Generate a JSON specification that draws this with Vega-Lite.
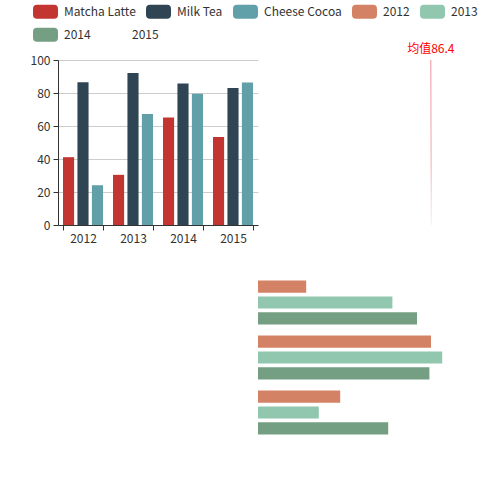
{
  "$schema": "https://vega.github.io/schema/vega-lite/v6.json",
  "padding": {"left": 30, "top": -1, "right": 0, "bottom": 0},
  "background": "white",
  "config": {
    "view": {"stroke": null},
    "font": "Noto Sans CJK SC",
    "axis": {"labelFont": "Noto Sans CJK SC", "labelFontSize": 12, "labelColor": "#333", "domainColor": "#333", "tickColor": "#333", "tickSize": 5, "labelPadding": 3, "title": null},
    "legend": {"symbolType": "M-0.68,-0.56L0.68,-0.56Q1,-0.56,1,-0.24L1,0.24Q1,0.56,0.68,0.56L-0.68,0.56Q-1,0.56,-1,0.24L-1,-0.24Q-1,-0.56,-0.68,-0.56Z",
               "symbolSize": 625, "symbolStrokeWidth": 0, "symbolOpacity": 1,
               "labelFont": "Noto Sans CJK SC", "labelFontSize": 12, "labelColor": "#333", "labelOffset": 6,
               "columnPadding": 10, "rowPadding": 0}
  },
  "bounds": "flush",
  "columns": 2,
  "spacing": {"row": 50, "column": 0},
  "resolve": {"scale": {"color": "shared", "fill": "shared", "x": "independent", "y": "independent"}},
  "concat": [
    {
      "width": 200,
      "height": 165,
      "data": {"values": [
        {"year": "2012", "series": "Matcha Latte", "value": 41.1},
        {"year": "2013", "series": "Matcha Latte", "value": 30.4},
        {"year": "2014", "series": "Matcha Latte", "value": 65.1},
        {"year": "2015", "series": "Matcha Latte", "value": 53.3},
        {"year": "2012", "series": "Milk Tea", "value": 86.5},
        {"year": "2013", "series": "Milk Tea", "value": 92.1},
        {"year": "2014", "series": "Milk Tea", "value": 85.7},
        {"year": "2015", "series": "Milk Tea", "value": 83.1},
        {"year": "2012", "series": "Cheese Cocoa", "value": 24.1},
        {"year": "2013", "series": "Cheese Cocoa", "value": 67.2},
        {"year": "2014", "series": "Cheese Cocoa", "value": 79.5},
        {"year": "2015", "series": "Cheese Cocoa", "value": 86.4}
      ]},
      "mark": {"type": "bar"},
      "encoding": {
        "x": {"field": "year", "type": "nominal", "scale": {"paddingInner": 0.2, "paddingOuter": 0.1},
              "axis": {"labelAngle": 0, "tickBand": "extent", "grid": false}},
        "xOffset": {"field": "series", "type": "nominal", "sort": ["Matcha Latte", "Milk Tea", "Cheese Cocoa"],
                    "scale": {"paddingInner": 0.2308, "paddingOuter": 0}},
        "y": {"field": "value", "type": "quantitative", "scale": {"domain": [0, 100]},
              "axis": {"values": [0, 20, 40, 60, 80, 100], "grid": true, "gridColor": "#ccc", "domain": true}},
        "color": {"field": "series", "type": "nominal",
                  "scale": {"domain": ["Matcha Latte", "Milk Tea", "Cheese Cocoa", "2012", "2013"],
                            "range": ["#c23531", "#2f4554", "#61a0a8", "#d48265", "#91c7ae"]},
                  "legend": {"title": null, "orient": "none", "legendX": -25, "legendY": -61, "direction": "horizontal", "columns": 5}}
      }
    },
    {
      "width": 200,
      "height": 165,
      "data": {"values": [{"avg": 86.4, "label": "均值86.4"}]},
      "layer": [
        {
          "mark": {"type": "rule", "strokeWidth": 1, "x2Offset": 0.5,
                   "stroke": {"gradient": "linear", "x1": 0, "y1": 0, "x2": 0, "y2": 1,
                              "stops": [{"offset": 0, "color": "#ef8f99"}, {"offset": 0.6, "color": "#f2a7ae"}, {"offset": 1, "color": "#faf0f0"}]}},
          "encoding": {
            "x": {"field": "avg", "type": "quantitative", "scale": {"domain": [0, 100]}, "axis": null},
            "x2": {"field": "avg"},
            "y": {"datum": 1, "type": "quantitative", "scale": {"domain": [0, 1]}, "axis": null},
            "y2": {"datum": 0}
          }
        },
        {
          "mark": {"type": "text", "color": "#ff0000", "fontSize": 12, "baseline": "alphabetic", "dy": -7, "font": "Noto Sans CJK SC"},
          "encoding": {
            "x": {"field": "avg", "type": "quantitative", "scale": {"domain": [0, 100]}, "axis": null},
            "y": {"datum": 1, "type": "quantitative", "scale": {"domain": [0, 1]}, "axis": null},
            "text": {"field": "label", "type": "nominal"}
          }
        }
      ]
    },
    {
      "width": 200,
      "height": 165,
      "data": {"values": [{}]},
      "mark": {"type": "point", "opacity": 0}
    },
    {
      "width": 200,
      "height": 165,
      "data": {"values": [
        {"product": "Matcha Latte", "series": "2012", "value": 41.1},
        {"product": "Matcha Latte", "series": "2013", "value": 30.4},
        {"product": "Matcha Latte", "series": "2014", "value": 65.1},
        {"product": "Milk Tea", "series": "2012", "value": 86.5},
        {"product": "Milk Tea", "series": "2013", "value": 92.1},
        {"product": "Milk Tea", "series": "2014", "value": 85.7},
        {"product": "Cheese Cocoa", "series": "2012", "value": 24.1},
        {"product": "Cheese Cocoa", "series": "2013", "value": 67.2},
        {"product": "Cheese Cocoa", "series": "2014", "value": 79.5}
      ]},
      "encoding": {
        "y": {"field": "product", "type": "nominal",
              "scale": {"domain": ["Cheese Cocoa", "Milk Tea", "Matcha Latte"], "paddingInner": 0.2, "paddingOuter": 0.1}, "axis": null},
        "yOffset": {"field": "series", "type": "nominal",
                    "scale": {"domain": ["2012", "2013", "2014"], "paddingInner": 0.2308, "paddingOuter": 0}},
        "x": {"field": "value", "type": "quantitative", "scale": {"domain": [0, 100]}, "axis": null}
      },
      "layer": [
        {
          "transform": [{"filter": "datum.series != '2014'"}],
          "mark": {"type": "bar"},
          "encoding": {
            "color": {"field": "series", "type": "nominal",
                      "scale": {"domain": ["Matcha Latte", "Milk Tea", "Cheese Cocoa", "2012", "2013"],
                                "range": ["#c23531", "#2f4554", "#61a0a8", "#d48265", "#91c7ae"]},
                      "legend": {"title": null, "orient": "none", "legendX": -25, "legendY": -61, "direction": "horizontal", "columns": 5}}
          }
        },
        {
          "transform": [{"filter": "datum.series == '2014'"}],
          "mark": {"type": "bar"},
          "encoding": {
            "fill": {"field": "series", "type": "nominal",
                     "scale": {"domain": ["2014", "2015"], "range": ["#749f83", "rgba(0,0,0,0)"]},
                     "legend": {"title": null, "orient": "none", "legendX": -25, "legendY": -38, "direction": "horizontal", "columns": 2}}
          }
        }
      ]
    }
  ]
}
